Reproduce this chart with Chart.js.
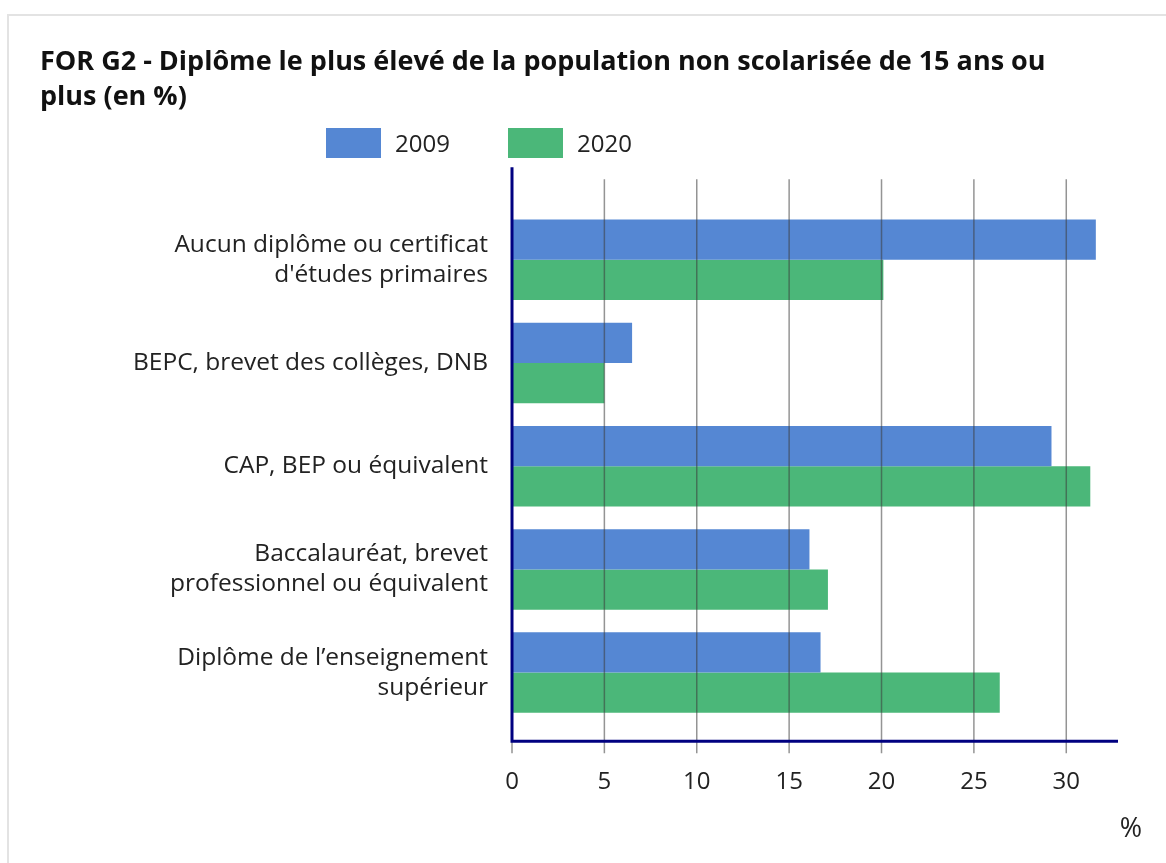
<!DOCTYPE html>
<html>
<head>
<meta charset="utf-8">
<script src="https://cdn.jsdelivr.net/npm/chart.js@4"></script>
<style>
  html, body { margin: 0; padding: 0; background: #fff; }
  #frame {
    position: absolute; left: 7px; top: 14px; width: 1200px; height: 900px;
    border-left: 2px solid #e3e3e3; border-top: 2px solid #e3e3e3;
  }
  #wrap { position: absolute; left: 0; top: 0; width: 1166px; height: 863px; }
</style>
</head>
<body>
<div id="frame"></div>
<div id="wrap"><canvas id="chart" width="1166" height="863"></canvas></div>
<script>
const categories = [
  ["Aucun diplôme ou certificat", "d'études primaires"],
  "BEPC, brevet des collèges, DNB",
  "CAP, BEP ou équivalent",
  ["Baccalauréat, brevet", "professionnel ou équivalent"],
  ["Diplôme de l’enseignement", "supérieur"],
];
const values2009 = [31.6, 6.5, 29.2, 16.1, 16.7];
const values2020 = [20.1, 5.0, 31.3, 17.1, 26.4];
const xTicks = [0, 5, 10, 15, 20, 25, 30];

const blue = "#5587d3";
const green = "#4bb779";
const navy = "#000080";

const axesPlugin = {
  id: "axesPlugin",
  afterDatasetsDraw(chart) {
    const { ctx, chartArea, scales } = chart;
    const x = scales.x;
    ctx.save();
    // vertical grid lines and ticks, drawn over the bars
    ctx.strokeStyle = "rgba(60,60,60,0.55)";
    ctx.lineWidth = 1.5;
    xTicks.forEach((v) => {
      const px = x.getPixelForValue(v);
      ctx.beginPath();
      ctx.moveTo(px, v === 0 ? chartArea.bottom + 17 : chartArea.top - 29);
      ctx.lineTo(px, chartArea.bottom + 29);
      ctx.stroke();
    });
    // axis lines
    ctx.strokeStyle = navy;
    ctx.lineWidth = 3;
    ctx.beginPath();
    ctx.moveTo(chartArea.left, chartArea.top - 41);
    ctx.lineTo(chartArea.left, chartArea.bottom + 17);
    ctx.lineTo(chartArea.right, chartArea.bottom + 17);
    ctx.stroke();
    // unit label
    ctx.fillStyle = "#222";
    ctx.font = "27px 'Open Sans'";
    ctx.textAlign = "center";
    ctx.textBaseline = "middle";
    ctx.fillText("%", chartArea.right + 13, chartArea.bottom + 105);
    ctx.restore();
  },
  afterDraw(chart) {
    // legend
    const { ctx } = chart;
    ctx.save();
    ctx.font = "24px 'Open Sans'";
    ctx.textBaseline = "middle";
    ctx.textAlign = "left";
    const starts = [326, 508];
    chart.data.datasets.forEach((ds, i) => {
      ctx.fillStyle = ds.backgroundColor;
      ctx.fillRect(starts[i], 128, 55, 30);
      ctx.fillStyle = "#222";
      ctx.fillText(ds.label, starts[i] + 69, 145);
    });
    ctx.restore();
  },
};

new Chart(document.getElementById("chart").getContext("2d"), {
  type: "bar",
  data: {
    labels: categories,
    datasets: [
      { label: "2009", data: values2009, backgroundColor: blue },
      { label: "2020", data: values2020, backgroundColor: green },
    ],
  },
  options: {
    indexAxis: "y",
    responsive: false,
    animation: false,
    categoryPercentage: 0.78,
    barPercentage: 1,
    layout: { padding: { left: 40, right: 48, top: 40, bottom: 22 } },
    plugins: {
      legend: { display: false },
      tooltip: { enabled: false },
      title: {
        display: true,
        align: "start",
        text: [
          "FOR G2 - Diplôme le plus élevé de la population non scolarisée de 15 ans ou",
          "plus (en %)",
        ],
        color: "#111",
        font: { family: "'Open Sans'", size: 27, weight: "bold", lineHeight: 1.3 },
        padding: { top: 5, bottom: 93 },
      },
    },
    scales: {
      x: {
        min: 0,
        max: 32.8,
        afterBuildTicks(scale) {
          scale.ticks = xTicks.map((v) => ({ value: v }));
        },
        grid: { display: false, drawTicks: false },
        border: { display: false },
        ticks: {
          padding: 44,
          color: "#222",
          font: { family: "'Open Sans'", size: 24 },
        },
      },
      y: {
        grid: { display: false, drawTicks: false },
        border: { display: false },
        afterFit(scale) {
          scale.width = 472;
        },
        ticks: {
          padding: 24,
          color: "#222",
          font: { family: "'Open Sans'", size: 24.5, lineHeight: 1.23 },
        },
      },
    },
  },
  plugins: [axesPlugin],
});
</script>
</body>
</html>
